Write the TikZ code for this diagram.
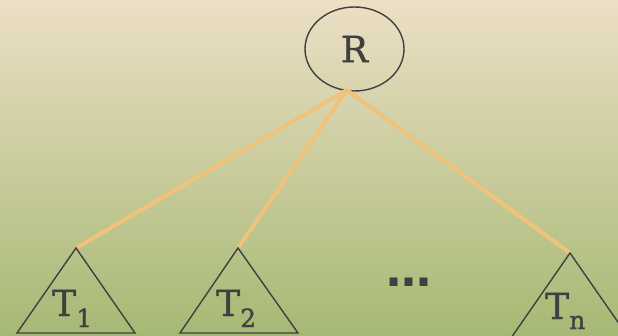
\documentclass[tikz,border=0pt]{standalone}
\usepackage{fontspec}
\setmainfont{DejaVu Serif}[FakeBold=1.2]
\newfontfamily\dotsfont{DejaVu Sans}
\usetikzlibrary{shapes.geometric}
\definecolor{bgtop}{RGB}{236,223,197}
\definecolor{bgbot}{RGB}{166,185,116}
\definecolor{edgeor}{RGB}{240,194,122}
\definecolor{inkgray}{RGB}{64,64,64}
\newcommand{\subtree}[2]{T\raisebox{-#2pt}{\fontsize{25}{25}\selectfont #1}}
\tikzset{
  rootnode/.style={ellipse, draw=inkgray, line width=1.4pt, minimum width=99pt, minimum height=84pt, inner sep=0pt, text=inkgray, font=\fontsize{36}{36}\selectfont},
  edgeline/.style={draw=edgeor, line width=4pt},
  treeshape/.style={draw=inkgray, line width=1.4pt, line join=miter},
  treelabel/.style={anchor=base west, inner sep=0pt, text=inkgray, font=\fontsize{36}{36}\selectfont},
}
\begin{document}
\begin{tikzpicture}[x=1pt,y=1pt]
\useasboundingbox (0,0) rectangle (618,335);
\shade[top color=bgtop, bottom color=bgbot] (0,0) rectangle (618,335);
\begin{scope}
\clip (0,0) rectangle (618,335);
\node[rootnode] (R) at (354.5,286) {R};
\coordinate (hub) at (347,245);
\coordinate (a1) at (76,87);
\coordinate (a2) at (238,87);
\coordinate (an) at (570,82);
\draw[edgeline] (hub) -- (a1);
\draw[edgeline] (hub) -- (a2);
\draw[edgeline] (hub) -- (an);
\draw[treeshape] (a1) -- (17,2) -- (135,2) -- cycle;
\draw[treeshape] (a2) -- (180,2) -- (298,2) -- cycle;
\draw[treeshape] (an) -- (511,-3) -- (629,-3) -- cycle;
\node[treelabel] (l1) at (52,19) {\subtree{1}{11}};
\node[treelabel] (l2) at (216,19) {\subtree{2}{11}};
\node[treelabel] (ln) at (545,16) {\subtree{n}{10}};
\node[anchor=base, inner sep=0pt, text=inkgray, font=\dotsfont\bfseries\fontsize{45}{45}\selectfont] (dots) at (409,49) {…};
\end{scope}
\end{tikzpicture}
\end{document}
